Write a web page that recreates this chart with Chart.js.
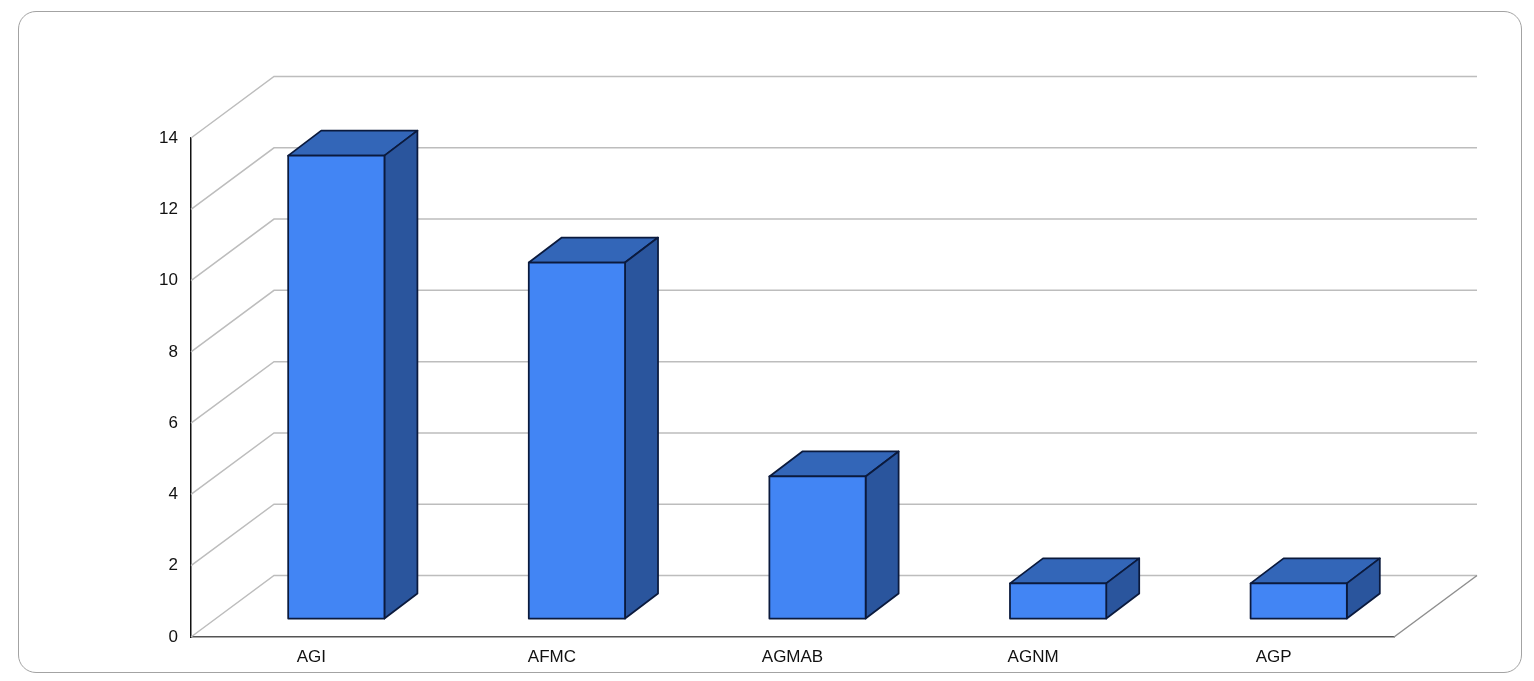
<!DOCTYPE html>
<html>
<head>
<meta charset="utf-8">
<title>Chart</title>
<script src="https://cdn.jsdelivr.net/npm/chart.js@4"></script>
<style>
  html, body { margin: 0; padding: 0; background: #fff; overflow: hidden; }
  #panel {
    position: absolute; left: 18px; top: 11px; width: 1502px; height: 660px;
    border: 1px solid #a3a3a3; border-radius: 18px;
  }
  #wrap { position: absolute; left: 0; top: 0; width: 1534px; height: 681px; }
</style>
</head>
<body>
<div id="panel"></div>
<div id="wrap"><canvas id="barChart" width="1534" height="681"></canvas></div>
<script>
var categories = ["AGI", "AFMC", "AGMAB", "AGNM", "AGP"];
var values = [13, 10, 4, 1, 1];
var yTicks = [0, 2, 4, 6, 8, 10, 12, 14];

// depth of the floor, and of a bar (bars stand in the middle of the floor)
var wallDx = 83, wallDy = -61.5;
var barDx = 33, barDy = -25;
var barShiftX = 25, barShiftY = -18;
var outline = '#0b1a3d';

var fake3d = {
  id: 'fake3d',
  // walls and slanted grid lines
  beforeDatasetsDraw: function(chart) {
    var c = chart.ctx, y = chart.scales.y, area = chart.chartArea;
    c.save();
    c.lineWidth = 1.5;
    c.strokeStyle = '#bdbdbd';
    yTicks.forEach(function(v) {
      var py = y.getPixelForValue(v);
      c.beginPath();
      c.moveTo(area.left, py);
      c.lineTo(area.left + wallDx, py + wallDy);
      c.lineTo(area.right + wallDx, py + wallDy);
      c.stroke();
    });
    c.strokeStyle = '#8f8f8f';
    c.beginPath();
    c.moveTo(area.right, area.bottom);
    c.lineTo(area.right + wallDx, area.bottom + wallDy);
    c.stroke();
    c.restore();

    // the bars themselves get shifted onto the middle of the floor
    c.save();
    c.translate(barShiftX, barShiftY);
    drawBoxSides(chart);
  },
  afterDatasetsDraw: function(chart) {
    var c = chart.ctx;
    c.lineWidth = 1.75;
    c.strokeStyle = outline;
    chart.getDatasetMeta(0).data.forEach(function(bar) {
      c.strokeRect(bar.x - bar.width / 2, bar.y, bar.width, bar.base - bar.y);
    });
    c.restore();
  }
};

function drawBoxSides(chart) {
  var c = chart.ctx;
  chart.getDatasetMeta(0).data.forEach(function(bar) {
    var l = bar.x - bar.width / 2, r = bar.x + bar.width / 2;
    c.lineWidth = 1.75;
    c.lineJoin = 'round';
    c.strokeStyle = outline;
    // top
    c.fillStyle = '#3366b8';
    c.beginPath();
    c.moveTo(l, bar.y);
    c.lineTo(l + barDx, bar.y + barDy);
    c.lineTo(r + barDx, bar.y + barDy);
    c.lineTo(r, bar.y);
    c.closePath();
    c.fill();
    c.stroke();
    // side
    c.fillStyle = '#2a559d';
    c.beginPath();
    c.moveTo(r, bar.y);
    c.lineTo(r + barDx, bar.y + barDy);
    c.lineTo(r + barDx, bar.base + barDy);
    c.lineTo(r, bar.base);
    c.closePath();
    c.fill();
    c.stroke();
  });
}

var ctx = document.getElementById("barChart");

var myBarChart = new Chart(ctx, {
  type: 'bar',
  data: {
    labels: categories,
    datasets: [{
      data: values,
      backgroundColor: '#4285f4',
      borderWidth: 0,
      barPercentage: 0.4,
      categoryPercentage: 1
    }]
  },
  options: {
    responsive: false,
    animation: false,
    layout: { padding: { top: 138, right: 140, left: 0, bottom: 0 } },
    plugins: { legend: { display: false }, tooltip: { enabled: false } },
    scales: {
      x: {
        afterFit: function(scale) { scale.height = 44; },
        grid: { drawOnChartArea: false, drawTicks: false },
        border: { color: '#555', width: 1.5 },
        ticks: { color: '#111', padding: 10, font: { family: 'Liberation Sans', size: 17 } }
      },
      y: {
        min: 0,
        max: 14,
        afterFit: function(scale) { scale.width = 191; },
        grid: { drawOnChartArea: false, drawTicks: false },
        border: { color: '#111', width: 1.5 },
        ticks: { stepSize: 2, color: '#111', padding: 13, font: { family: 'Liberation Sans', size: 17 } }
      }
    }
  },
  plugins: [fake3d]
});
</script>
</body>
</html>
